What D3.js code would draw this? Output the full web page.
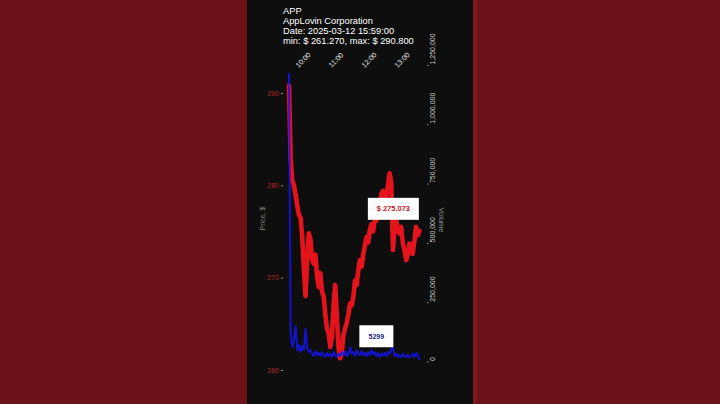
<!DOCTYPE html>
<html>
<head>
<meta charset="utf-8">
<script src="https://cdn.jsdelivr.net/npm/d3@7/dist/d3.min.js"></script>
<style>
  html, body { margin: 0; padding: 0; background: #6c1319; }
  svg { display: block; }
  text { font-family: "Liberation Sans", Arial, sans-serif; }
</style>
</head>
<body>
<svg id="chart" width="720" height="404"></svg>
<script>
// ---- data ----
const titleLines = ["APP", "AppLovin Corporation", "Date: 2025-03-12 15:59:00", "min: $ 261.270, max: $ 290.800"];
// minutes after 09:30, every 3 minutes
const minutes = d3.range(0, 240, 3);
const prices = [
  290.8, 283.0, 280.5, 280.0, 279.0, 277.8, 276.8, 276.5, 274.5, 271.0,
  268.0, 272.0, 274.8, 274.2, 272.0, 271.5, 272.5, 270.2, 269.0, 270.5,
  268.5, 268.0, 266.0, 264.5, 264.0, 262.5, 263.5, 267.0, 269.2, 265.8,
  262.5, 261.27, 262.0, 263.8, 264.5, 265.1, 266.0, 267.2, 267.0, 267.9,
  269.7, 269.2, 270.8, 271.9, 271.2, 272.5, 273.5, 274.4, 273.8, 275.2,
  275.8, 275.0, 276.3, 276.2, 277.5, 276.8, 279.1, 279.4, 278.0, 278.8,
  280.0, 281.3, 280.2, 273.0, 275.5, 276.2, 275.0, 274.8, 275.5, 273.7,
  273.0, 271.9, 272.5, 273.7, 272.8, 272.6, 274.0, 275.5, 274.6, 275.073
];
const volumes = [
  1215000, 120000, 61000, 91000, 150000, 48000, 70000, 40000, 65000, 48000,
  137000, 57000, 40000, 48000, 32000, 23000, 44000, 27000, 36000, 23000,
  40000, 27000, 19000, 36000, 23000, 32000, 19000, 40000, 27000, 19000,
  32000, 23000, 40000, 27000, 44000, 23000, 36000, 61000, 32000, 40000,
  23000, 48000, 32000, 27000, 44000, 27000, 36000, 23000, 40000, 27000,
  48000, 32000, 40000, 23000, 36000, 19000, 32000, 27000, 36000, 23000,
  40000, 32000, 53000, 57000, 23000, 32000, 19000, 27000, 19000, 32000,
  23000, 19000, 27000, 19000, 23000, 32000, 19000, 36000, 27000, 5299
];
const xTickMinutes = [30, 90, 150, 210];
const xTickLabels = ["10:00", "11:00", "12:00", "13:00"];
const priceTicks = [260, 270, 280, 290];
const volumeTicks = [0, 250000, 500000, 750000, 1000000, 1250000];
const priceLabel = "Price, $";
const volumeLabel = "Volume";

// ---- drawing ----
const svg = d3.select("#chart");

// black panel
svg.append("rect").attr("x", 247).attr("y", 0).attr("width", 226).attr("height", 404).attr("fill", "#0e0e0e");
svg.append("rect").attr("x", 473).attr("y", 0).attr("width", 4).attr("height", 404).attr("fill", "#7c1a21");

const x = d3.scaleLinear().domain([0, 255]).range([289, 289 + 255 * 0.55]);
const yP = d3.scaleLinear().domain([260, 290]).range([370, 93]);
const yV = d3.scaleLinear().domain([0, 1250000]).range([361.5, 65]);

// title
const title = svg.append("g");
titleLines.forEach((t, i) => {
  title.append("text").attr("x", 283).attr("y", 13.5 + i * 10.3)
    .attr("fill", "#ffffff").attr("font-size", 9.3).text(t);
});

// x tick labels (top, rotated)
const xg = svg.append("g");
xTickMinutes.forEach((m, i) => {
  const cx = x(m) - 2.5, cy = 60;
  xg.append("text").attr("x", cx).attr("y", cy)
    .attr("transform", `rotate(-45,${cx},${cy})`)
    .attr("text-anchor", "middle").attr("dominant-baseline", "central")
    .attr("fill", "#e0e0e0").attr("font-size", 7.2).text(xTickLabels[i]);
});

// left price axis
const leftAxis = svg.append("g").attr("transform", "translate(283,0)")
  .call(d3.axisLeft(yP).tickValues(priceTicks).tickSize(2).tickPadding(2).tickFormat(d3.format("d")));
leftAxis.select(".domain").remove();
leftAxis.selectAll(".tick line").attr("stroke", "#999");
leftAxis.selectAll(".tick text").attr("fill", "#b5262c").attr("font-size", 7)
  .attr("font-family", "Liberation Sans, Arial, sans-serif");

// right volume axis
const rightAxis = svg.append("g").attr("transform", "translate(427,0)")
  .call(d3.axisRight(yV).tickValues(volumeTicks).tickSize(1.5).tickFormat(d3.format(",")));
rightAxis.select(".domain").remove();
rightAxis.selectAll(".tick line").attr("stroke", "#999");
rightAxis.selectAll(".tick text")
  .attr("transform", "rotate(-90)")
  .attr("x", 1).attr("y", 5.5).attr("dy", "0.35em")
  .attr("text-anchor", "start")
  .attr("fill", "#c8c8c8").attr("font-size", 7)
  .attr("font-family", "Liberation Sans, Arial, sans-serif");

// axis titles
svg.append("text").attr("transform", "translate(264.5,218.5) rotate(-90)")
  .attr("text-anchor", "middle").attr("fill", "#8a8a8a").attr("font-size", 7).text(priceLabel);
svg.append("text").attr("transform", "translate(438.5,220) rotate(90)")
  .attr("text-anchor", "middle").attr("fill", "#8a8a8a").attr("font-size", 7.5).text(volumeLabel);

// lines
const priceLine = d3.line().x((d, i) => x(minutes[i])).y(d => yP(d));
const volLine = d3.line().x((d, i) => x(minutes[i])).y(d => yV(d));

svg.append("path").datum(prices).attr("d", priceLine)
  .attr("fill", "none").attr("stroke", "#e5131c").attr("stroke-width", 4.6)
  .attr("stroke-linejoin", "round").attr("stroke-linecap", "round");
svg.append("path").datum(volumes).attr("d", volLine)
  .attr("fill", "none").attr("stroke", "#1414f0").attr("stroke-opacity", 0.85).attr("stroke-width", 2)
  .attr("stroke-linejoin", "round");

// last-value labels
const n = prices.length - 1;
const lx = x(minutes[n]);
const pcx = lx - 26, pcy = yP(prices[n]) - 22;
svg.append("rect").attr("x", pcx - 25.5).attr("y", pcy - 11).attr("width", 51).attr("height", 22).attr("fill", "#ffffff");
svg.append("text").attr("x", pcx).attr("y", pcy).attr("text-anchor", "middle").attr("dominant-baseline", "central")
  .attr("fill", "#c3161e").attr("font-weight", "bold").attr("font-size", 7.5).text("$ " + d3.format(".3f")(prices[n]));

const vcx = lx - 43, vcy = yV(volumes[n]) - 24;
svg.append("rect").attr("x", vcx - 17).attr("y", vcy - 11).attr("width", 34).attr("height", 22).attr("fill", "#ffffff");
svg.append("text").attr("x", vcx).attr("y", vcy).attr("text-anchor", "middle").attr("dominant-baseline", "central")
  .attr("fill", "#1a1a80").attr("font-weight", "bold").attr("font-size", 7).text(String(volumes[n]));
</script>
</body>
</html>
